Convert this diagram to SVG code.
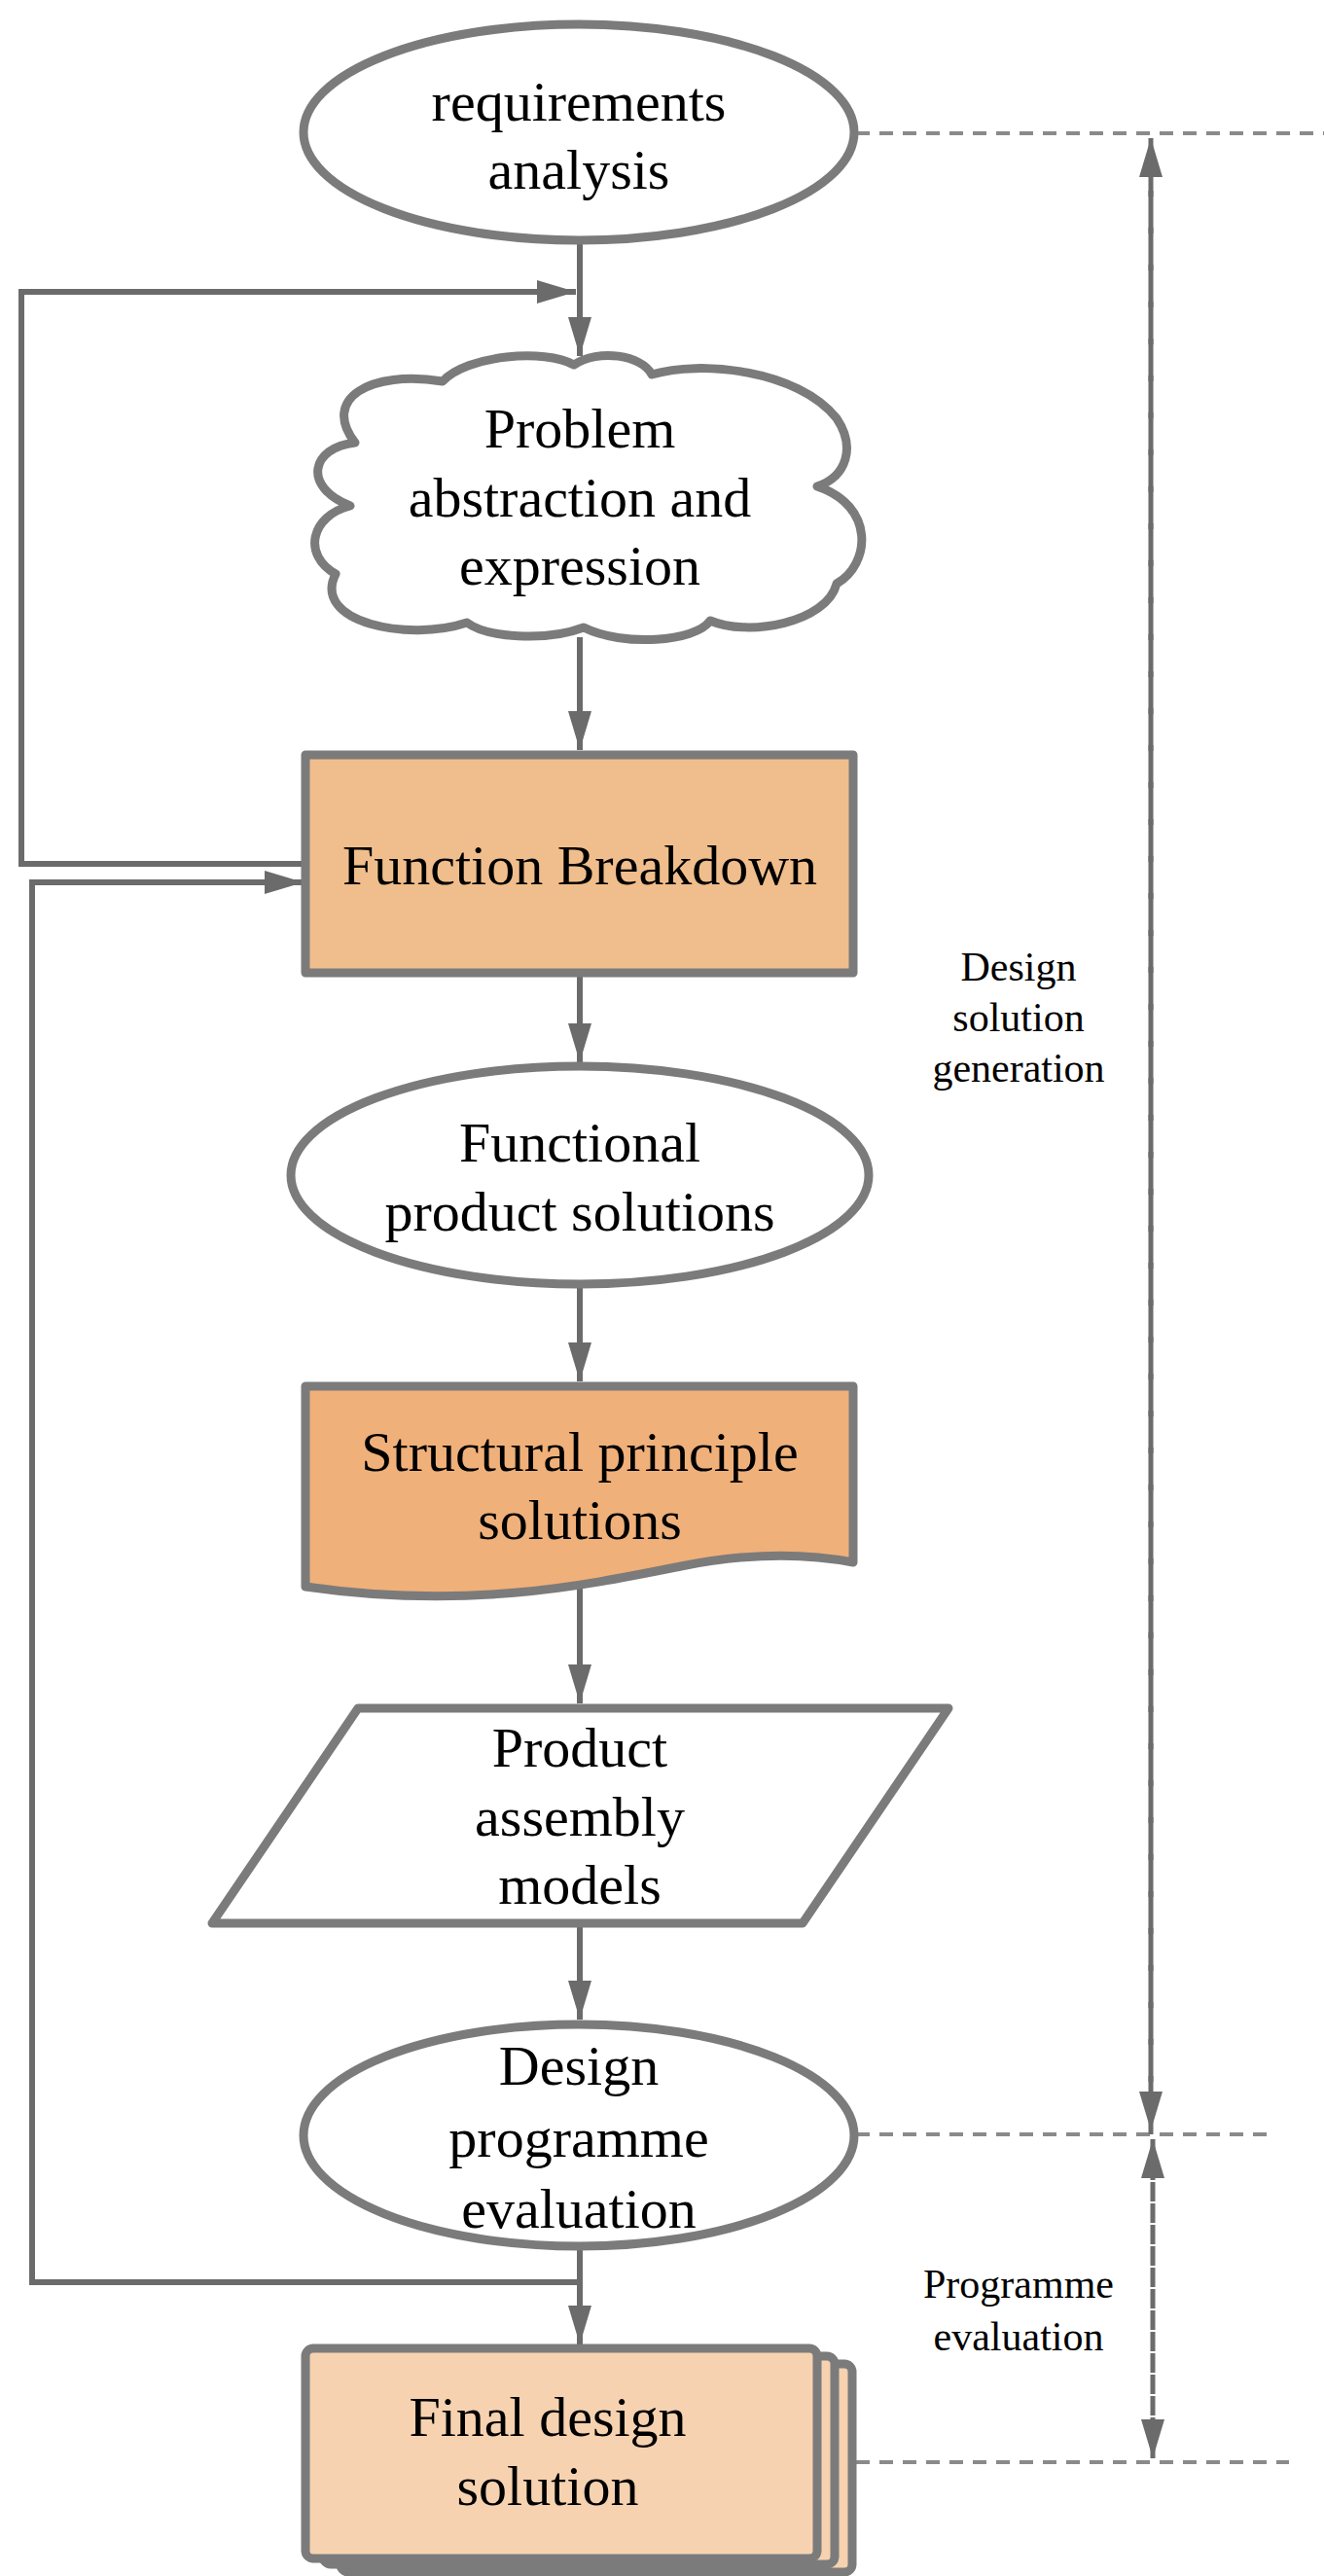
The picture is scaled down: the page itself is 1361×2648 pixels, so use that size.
<svg xmlns="http://www.w3.org/2000/svg" width="1361" height="2648" viewBox="0 0 1361 2648">
<style>
.n{stroke:#7b7b7b;stroke-width:9;stroke-linejoin:round}
.t{font-family:"Liberation Serif",serif;font-size:58px;fill:#000;text-anchor:middle}
.s{font-family:"Liberation Serif",serif;font-size:42px;fill:#000;text-anchor:middle}
.c{fill:none;stroke:#6b6b6b;stroke-width:6}
.d{fill:none;stroke:#8a8a8a;stroke-width:4;stroke-dasharray:14 10}
.v{fill:none;stroke:#6b6b6b;stroke-width:5}
</style>
<defs>
<marker id="a" viewBox="0 0 10 10" refX="10" refY="5" markerWidth="7" markerHeight="7" markerUnits="userSpaceOnUse" orient="auto" style="overflow:visible">
<path d="M0,0 L10,5 L0,10 Z" fill="#6b6b6b"/>
</marker>
<marker id="b" viewBox="0 0 10 10" refX="10" refY="5" markerWidth="40" markerHeight="40" markerUnits="userSpaceOnUse" orient="auto">
<path d="M0,2 L10,5 L0,8 Z" fill="#6b6b6b"/>
</marker>
</defs>
<g id="guides">
<line class="d" x1="880" y1="137" x2="1361" y2="137"/>
<line class="d" x1="880" y1="2194" x2="1305" y2="2194"/>
<line class="d" x1="880" y1="2531" x2="1325" y2="2531"/>
<line class="v" x1="1183" y1="2194" x2="1183" y2="142" stroke-dasharray="22 16" marker-end="url(#b)"/>
<line class="v" x1="1183" y1="142" x2="1183" y2="2190" stroke-dasharray="22 16" marker-end="url(#b)"/>
<line class="v" x1="1185" y1="2527" x2="1185" y2="2199" stroke-dasharray="10 12" marker-end="url(#b)"/>
<line class="v" x1="1185" y1="2199" x2="1185" y2="2527" stroke-dasharray="10 12" marker-end="url(#b)"/>
<text class="s" x="1047" y="1008">Design</text>
<text class="s" x="1047" y="1060">solution</text>
<text class="s" x="1047" y="1112">generation</text>
<text class="s" x="1047" y="2362">Programme</text>
<text class="s" x="1047" y="2416">evaluation</text>
</g>
<g id="connectors">
<line class="c" x1="596" y1="247" x2="596" y2="366" marker-end="url(#b)"/>
<polyline class="c" points="314,888 22,888 22,300 592,300" marker-end="url(#b)"/>
<line class="c" x1="596" y1="655" x2="596" y2="771" marker-end="url(#b)"/>
<polyline class="c" points="596,2346 33,2346 33,907 312,907" marker-end="url(#b)"/>
<line class="c" x1="596" y1="1000" x2="596" y2="1092" marker-end="url(#b)"/>
<line class="c" x1="596" y1="1321" x2="596" y2="1420" marker-end="url(#b)"/>
<line class="c" x1="596" y1="1631" x2="596" y2="1751" marker-end="url(#b)"/>
<line class="c" x1="596" y1="1977" x2="596" y2="2076" marker-end="url(#b)"/>
<line class="c" x1="596" y1="2309" x2="596" y2="2410" marker-end="url(#b)"/>
</g>
<g id="n1">
<ellipse class="n" cx="595" cy="136" rx="283" ry="111" fill="#fff"/>
<text class="t" x="595" y="124">requirements</text>
<text class="t" x="595" y="194">analysis</text>
</g>
<g id="n2">
<path class="n" fill="#fff" d="M365,455 C330,410 380,380 455,392 C480,365 560,358 590,375 C615,358 660,365 670,385 C720,370 820,380 860,430 C880,460 870,490 840,500 C900,520 895,580 860,600 C850,640 770,655 730,638 C715,660 640,665 600,645 C560,660 500,655 480,640 C420,660 320,640 345,590 C310,570 320,530 360,520 C310,500 320,460 365,455 Z"/>
<text class="t" x="596" y="460">Problem</text>
<text class="t" x="596" y="531">abstraction and</text>
<text class="t" x="596" y="601">expression</text>
</g>
<g id="n3">
<rect class="n" x="314" y="776" width="563" height="224" fill="#F0BE8C"/>
<text class="t" x="596" y="909">Function Breakdown</text>
</g>
<g id="n4">
<ellipse class="n" cx="596" cy="1208" rx="297" ry="112" fill="#fff"/>
<text class="t" x="596" y="1194">Functional</text>
<text class="t" x="596" y="1265">product solutions</text>
</g>
<g id="n5">
<path class="n" fill="#F0B07A" d="M314,1425 H877 V1606 C820,1595 760,1598 700,1610 C600,1630 480,1655 314,1631 Z"/>
<text class="t" x="596" y="1512">Structural principle</text>
<text class="t" x="596" y="1582">solutions</text>
</g>
<g id="n6">
<polygon class="n" fill="#fff" points="368,1756 975,1756 825,1977 218,1977"/>
<text class="t" x="596" y="1816">Product</text>
<text class="t" x="596" y="1887">assembly</text>
<text class="t" x="596" y="1957">models</text>
</g>
<g id="n7">
<ellipse class="n" cx="595" cy="2195" rx="283" ry="114" fill="#fff"/>
<text class="t" x="595" y="2143">Design</text>
<text class="t" x="595" y="2217">programme</text>
<text class="t" x="595" y="2290">evaluation</text>
</g>
<g id="n8">
<rect class="n" x="350" y="2430" width="526" height="214" rx="8" fill="#F6D2B0"/>
<rect class="n" x="332" y="2422" width="526" height="214" rx="8" fill="#F6D2B0"/>
<rect class="n" x="314" y="2414" width="526" height="216" rx="8" fill="#F6D2B0"/>
<text class="t" x="563" y="2504">Final design</text>
<text class="t" x="563" y="2575">solution</text>
</g>
</svg>
